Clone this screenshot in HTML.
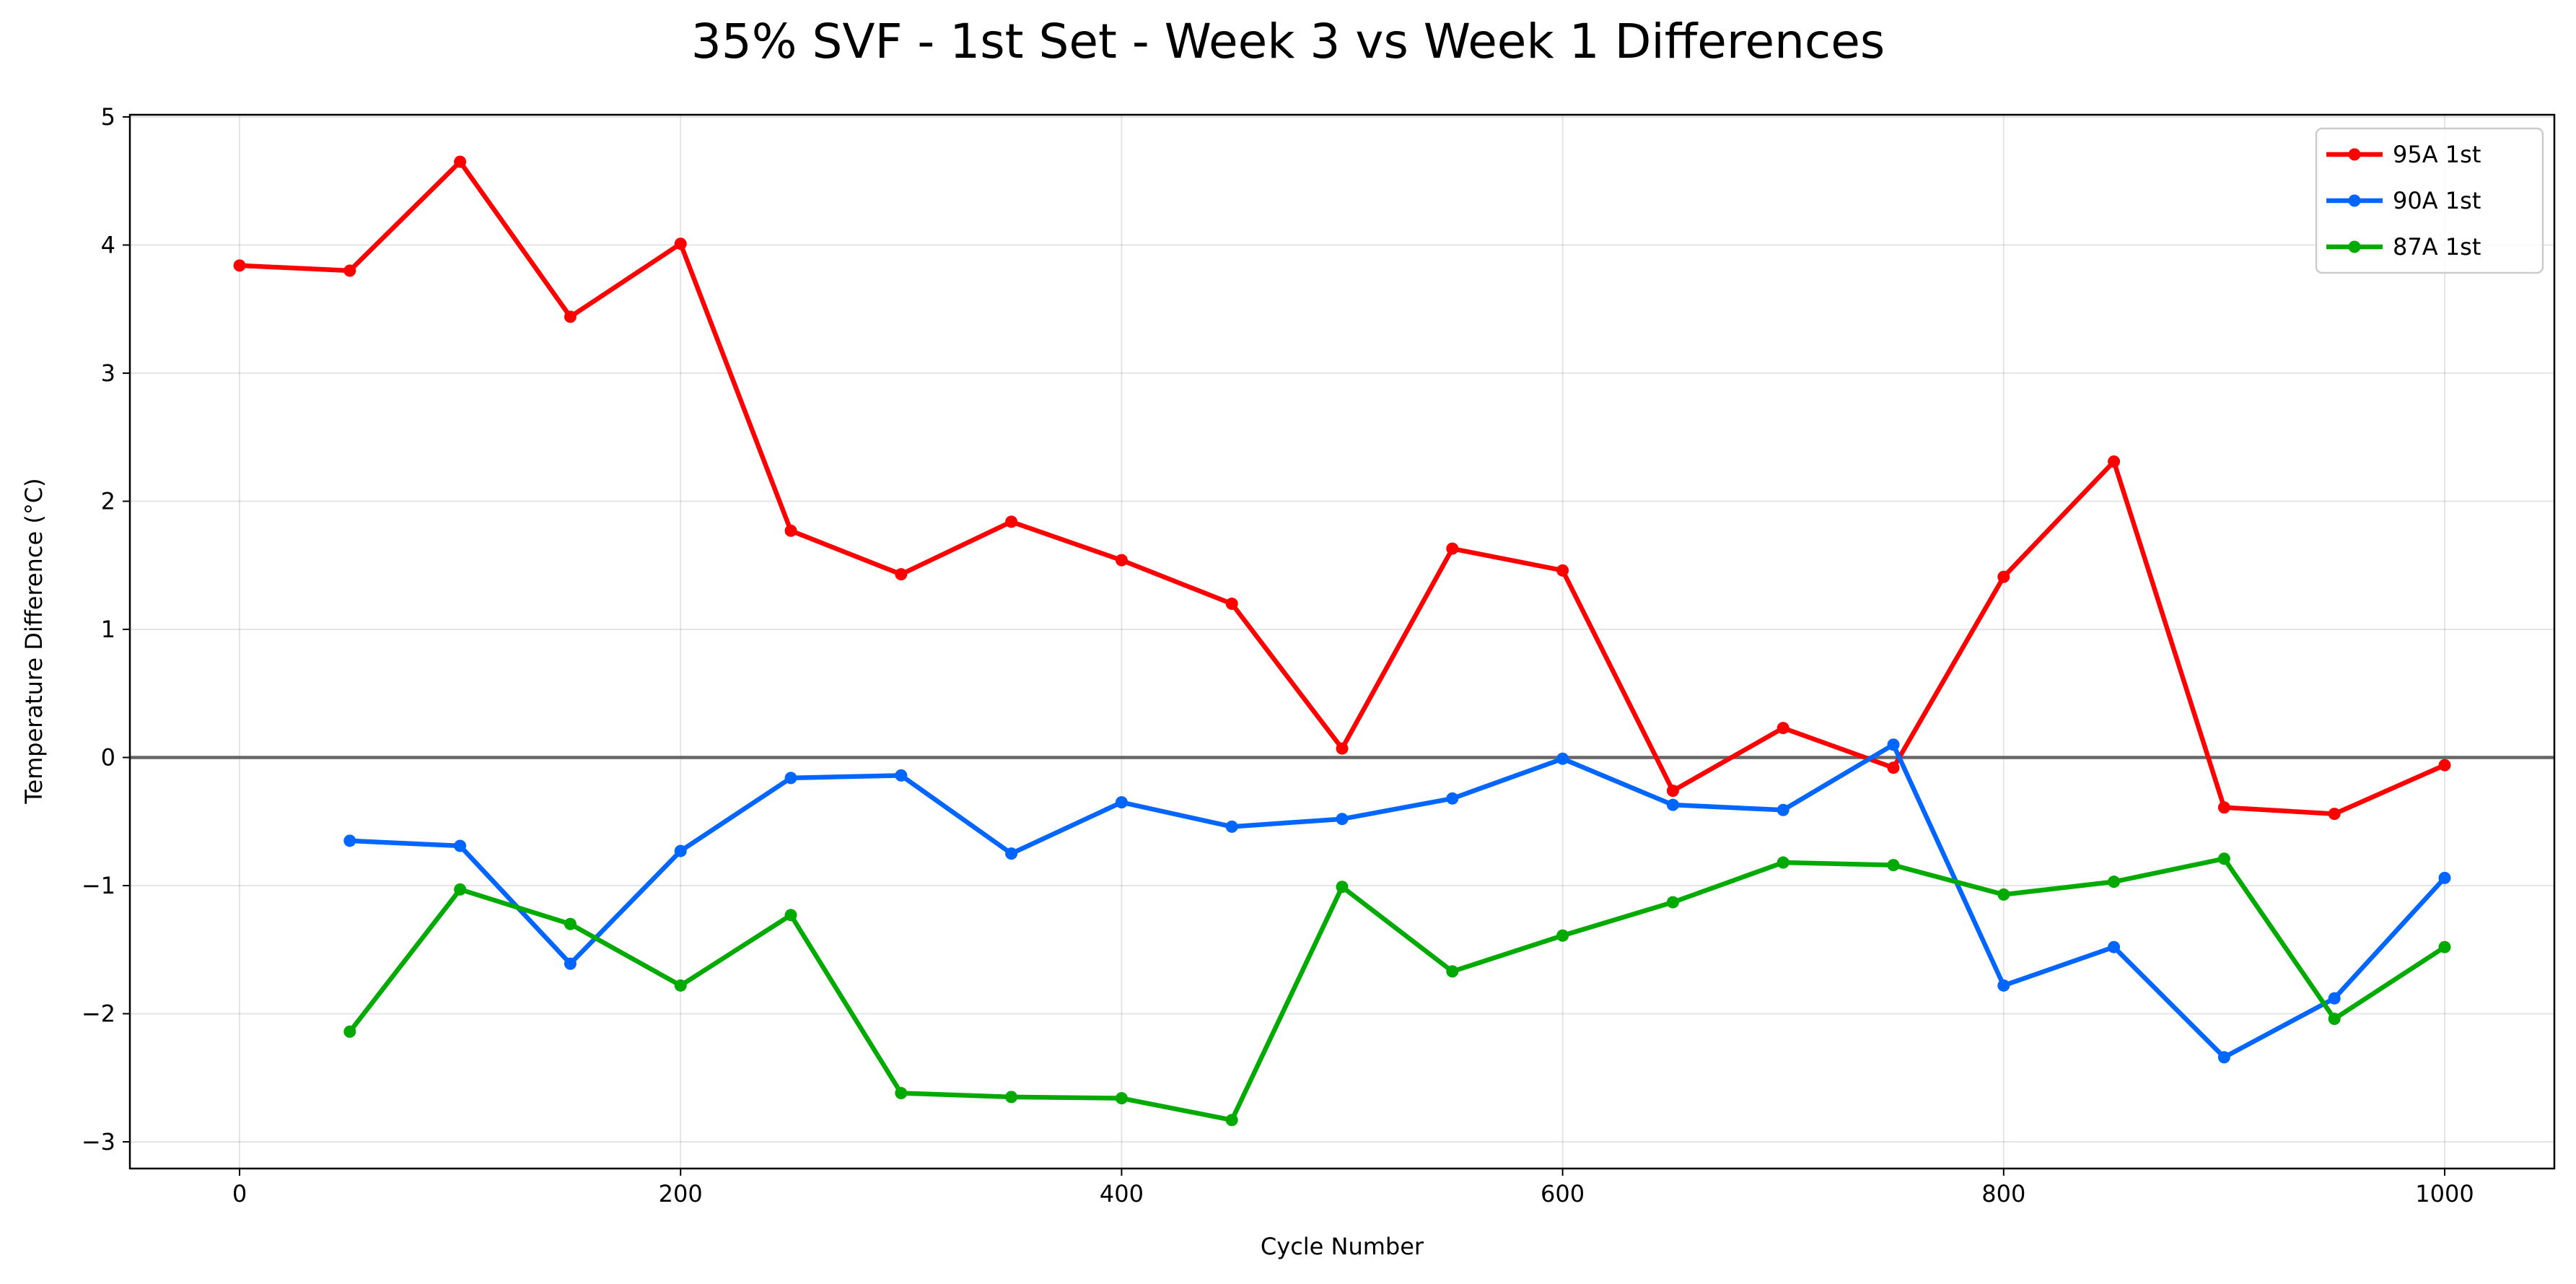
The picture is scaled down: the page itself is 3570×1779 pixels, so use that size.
<!DOCTYPE html>
<html><head><meta charset="utf-8"><style>
html,body{margin:0;padding:0;background:#fff;}
svg{display:block;font-family:"DejaVu Sans","Liberation Sans",sans-serif;}
</style></head><body>
<svg id="chart" width="3570" height="1779" viewBox="0 0 3570 1779" xmlns="http://www.w3.org/2000/svg">
<rect width="3570" height="1779" fill="#fff"/>
<text x="1785" y="80" font-size="66" text-anchor="middle">35% SVF - 1st Set - Week 3 vs Week 1 Differences</text>
<g id="grid"></g>
<g id="ticks"></g>
<line id="zero" stroke="#666" stroke-width="4.5"/>
<g id="series"></g>
<rect x="180" y="159" width="3360" height="1460" fill="none" stroke="#000" stroke-width="2.5"/>
<text x="1860" y="1738" font-size="32" text-anchor="middle">Cycle Number</text>
<text x="0" y="0" font-size="32" text-anchor="middle" transform="translate(58,888) rotate(-90)">Temperature Difference (°C)</text>
<g>
<rect x="3210" y="178" width="314" height="200" rx="8" fill="#fff" fill-opacity="0.8" stroke="#ccc" stroke-width="2.5"/>
<g id="legend-items"></g>
</g>
</svg>
<script>
const cycles=[0,50,100,150,200,250,300,350,400,450,500,550,600,650,700,750,800,850,900,950,1000];
const s95=[3.84,3.80,4.65,3.44,4.01,1.77,1.43,1.84,1.54,1.20,0.07,1.63,1.46,-0.26,0.23,-0.08,1.41,2.31,-0.39,-0.44,-0.06];
const s90=[null,-0.65,-0.69,-1.61,-0.73,-0.16,-0.14,-0.75,-0.35,-0.54,-0.48,-0.32,-0.01,-0.37,-0.41,0.10,-1.78,-1.48,-2.34,-1.88,-0.94];
const s87=[null,-2.14,-1.03,-1.30,-1.78,-1.23,-2.62,-2.65,-2.66,-2.83,-1.01,-1.67,-1.39,-1.13,-0.82,-0.84,-1.07,-0.97,-0.79,-2.04,-1.48];
const seriesNames=["95A 1st","90A 1st","87A 1st"];
const seriesColors=["#ff0000","#0066ff","#00aa00"];
const xTicks=[0,200,400,600,800,1000];
const yTicks=[-3,-2,-1,0,1,2,3,4,5];
const NS="http://www.w3.org/2000/svg";
const X=v=>332+v*(3388-332)/1000;
const Y=v=>1582-(v+3)*(1582-162)/8;
function mk(t,a,p){const e=document.createElementNS(NS,t);for(const k in a)e.setAttribute(k,a[k]);p.appendChild(e);return e;}
const grid=document.getElementById('grid'),ticks=document.getElementById('ticks');
xTicks.forEach(v=>{
 const g=mk('line',{x1:X(v),x2:X(v),y1:159,y2:1619,stroke:'#000','stroke-opacity':0.1,'stroke-width':2},grid);
 
 
 mk('line',{x1:X(v),x2:X(v),y1:1619,y2:1629,stroke:'#000','stroke-width':2},ticks);
 const t=mk('text',{x:X(v),y:1665,'font-size':32,'text-anchor':'middle'},ticks);t.textContent=v;
 
 
});
yTicks.forEach(v=>{
 const g=mk('line',{x1:180,x2:3540,y1:Y(v),y2:Y(v),stroke:'#000','stroke-opacity':0.1,'stroke-width':2},grid);
 
 
 mk('line',{x1:170,x2:180,y1:Y(v),y2:Y(v),stroke:'#000','stroke-width':2},ticks);
 const t=mk('text',{x:160,y:Y(v)+11,'font-size':32,'text-anchor':'end'},ticks);t.textContent=(v<0?'\u2212'+(-v):v);
 
 
});
const z=document.getElementById('zero');z.setAttribute('x1',180);z.setAttribute('x2',3540);z.setAttribute('y1',Y(0));z.setAttribute('y2',Y(0));
const sg=document.getElementById('series');
[s95,s90,s87].forEach((s,i)=>{
 const pts=[];cycles.forEach((c,j)=>{if(s[j]!==null)pts.push([X(c),Y(s[j])]);});
 const pl=mk('polyline',{points:pts.map(p=>p.join(',')).join(' '),fill:'none',stroke:seriesColors[i],'stroke-width':6.5,'stroke-linejoin':'round'},sg);
 
 
 pts.forEach(p=>{const c=mk('circle',{cx:p[0],cy:p[1],r:8.5,fill:seriesColors[i]},sg);
  
  });
});
const li=document.getElementById('legend-items');
seriesNames.forEach((n,i)=>{
 const y=214+i*64;
 const l=mk('line',{x1:3224,x2:3302,y1:y,y2:y,stroke:seriesColors[i],'stroke-width':6.5},li);
 
 
 mk('circle',{cx:3263,cy:y,r:8.5,fill:seriesColors[i]},li);
 const t=mk('text',{x:3316,y:y+11,'font-size':32},li);t.textContent=n;
 
 
});
</script>
</body></html>
